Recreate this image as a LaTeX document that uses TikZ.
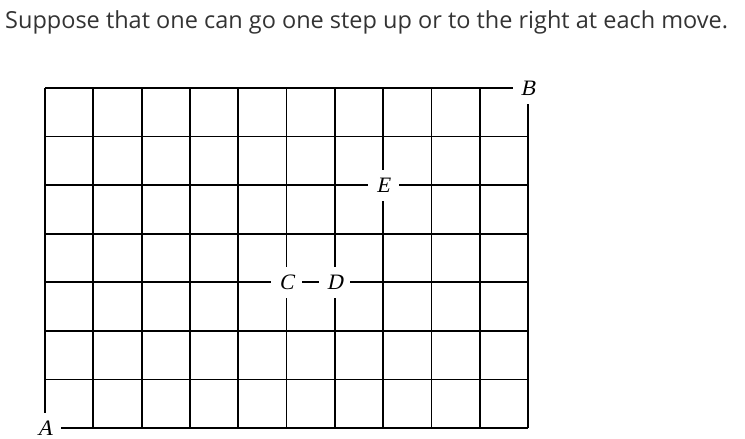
\documentclass[tikz,border=0pt]{standalone}
\usepackage{fontspec}
\newfontfamily\headfont{Open Sans}
\newfontfamily\labelfont{Liberation Serif}[FakeSlant=0.22]
\definecolor{headgray}{HTML}{333333}
\begin{document}
\begin{tikzpicture}[x=1pt,y=-1pt,
  pt/.style={fill=white,inner sep=0pt,minimum width=31pt,minimum height=31pt,
    font=\labelfont\fontsize{22}{24}\selectfont}]

\useasboundingbox (0,0) rectangle (745,439);

\node[anchor=base west,inner sep=0pt,text=headgray,font=\headfont\fontsize{23.5}{28}\selectfont]
  (title) at (5,28) {Suppose that one can go one step up or to the right at each move.};

\begin{scope}[xshift=45pt,yshift=-428pt,x=48.3pt,y=48.57pt]
\foreach \i in {0,...,10}
  \draw[line width=1.8pt] (\i,0) -- (\i,7);
\foreach \j in {0,...,7}
  \draw[line width=1.8pt] (0,\j) -- (10,\j);

\node[pt] (A) at (0,0) {A};
\node[pt] (B) at (10,7) {B};
\node[pt] (C) at (5,3) {C};
\node[pt] (D) at (6,3) {D};
\node[pt] (E) at (7,5) {E};
\end{scope}

\end{tikzpicture}
\end{document}
